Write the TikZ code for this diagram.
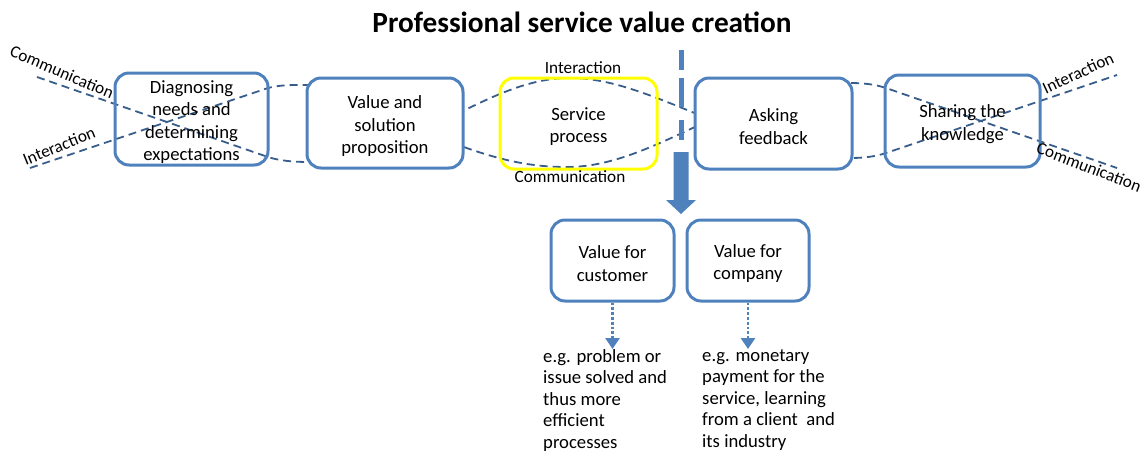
\documentclass[tikz,border=0pt]{standalone}
\usepackage{fontspec}
\setmainfont{Carlito}
\usetikzlibrary{arrows.meta,backgrounds}
\definecolor{boxblue}{RGB}{79,129,189}
\definecolor{dashblue}{RGB}{56,93,138}
\definecolor{hlyellow}{RGB}{255,255,0}
\newcommand\boxtopstrut{\rule{0pt}{19pt}}
\tikzset{
  box/.style={draw=boxblue, line width=3pt, rounded corners=14pt, align=center, inner sep=0pt,
    font=\fontsize{18.67}{22.4}\selectfont},
  wave/.style={draw=dashblue, line width=1.8pt, dash pattern=on 8pt off 5pt},
  wavelabel/.style={inner sep=0pt, font=\fontsize{17.2}{20}\selectfont},
  note/.style={align=left, inner sep=0pt, anchor=north west, font=\fontsize{18.67}{21.6}\selectfont},
  dotarrow/.style={draw=boxblue, line width=2.8pt, dash pattern=on 2.8pt off 2pt,
    -{Triangle[length=11pt,width=14pt]}},
}
\begin{document}
\begin{tikzpicture}[x=1pt,y=-1pt]
\useasboundingbox (0,0) rectangle (1143,456);

\node[inner sep=0pt, font=\bfseries\fontsize{29.3}{34}\selectfont] (title) at (582,22) {Professional service value creation};

\node[box, minimum width=153pt, minimum height=92pt] (b1) at (191.5,119) {\boxtopstrut Diagnosing\\needs and\\determining\\expectations};
\node[box, fill=white, minimum width=156pt, minimum height=90pt] (b2) at (385,123) {\boxtopstrut Value and\\solution\\proposition};
\node[box, draw=hlyellow, minimum width=157pt, minimum height=91pt] (b3) at (578.5,123.5) {\boxtopstrut Service\\process};
\node[box, fill=white, minimum width=157pt, minimum height=91pt] (b4) at (773.5,123.5) {\boxtopstrut Asking\\feedback};
\node[box, minimum width=155pt, minimum height=92pt] (b5) at (962.5,121) {\boxtopstrut Sharing the\\knowledge};

\node[box, minimum width=123pt, minimum height=81pt] (vc) at (612.5,260.5) {\boxtopstrut Value for\\customer};
\node[box, minimum width=122pt, minimum height=81pt] (vco) at (748,260.5) {\boxtopstrut Value for\\company};

\node[note] (vct) at (543,349) {e.g. problem or\\issue solved and\\thus more\\efficient\\processes};
\node[note] (vcot) at (702,349) {e.g. monetary\\payment for the\\service, learning\\from a client\ \ and\\its industry};

\draw[dotarrow] (vc.south) -- (vc.south |- vct.north);
\draw[dotarrow] (vco.south) -- (vco.south |- vcot.north);

% wave labels
\node[wavelabel, rotate=-23] (lc) at (62,72) {Communication};
\node[wavelabel, rotate=22] (li) at (59,146) {Interaction};
\node[wavelabel] (mi) at (583,68) {Interaction};
\node[wavelabel] (mc) at (570,177) {Communication};
\node[wavelabel, rotate=25] (ri) at (1078,73) {Interaction};
\node[wavelabel, rotate=-21] (rc) at (1089,167) {Communication};

% separating line and main arrow
\coordinate (sepT) at (681,50);
\coordinate (sepB) at (681,140);
\draw[draw=boxblue, line width=5pt, dash pattern=on 20pt off 8pt on 29pt off 13pt on 20pt off 10pt] (sepT) -- (sepB);
\coordinate (arrS) at (681,152);
\fill[boxblue] (arrS) ++(-7.5,0) -- ++(15,0) -- ++(0,48) -- ++(7.5,0) -- (681,214) -- (666,200) -- ++(7.5,0) -- cycle;

\begin{pgfonlayer}{background}
\coordinate (iA) at (30,168);
\coordinate (iZ) at (1117,75);
\coordinate (cA) at (37,77);
\coordinate (cZ) at (1117,168);
\draw[wave] (iA) -- (268,88) .. controls (281,84.5) and (295,85) .. (309,85) -- (461,112)
  .. controls (503,91) and (535,78) .. (570,78) .. controls (610,78) and (650,95) .. (697,114)
  -- (850,158) .. controls (862,158) and (874,157) .. (886,153) -- (iZ);
\draw[wave] (cA) -- (268,157) .. controls (280,161) and (295,162) .. (309,162) -- (461,146)
  .. controls (500,160) and (530,167) .. (567,167) .. controls (610,167) and (650,148) .. (697,126)
  -- (850,83) .. controls (862,83) and (874,84) .. (886,88) -- (cZ);
\end{pgfonlayer}
\end{tikzpicture}
\end{document}
